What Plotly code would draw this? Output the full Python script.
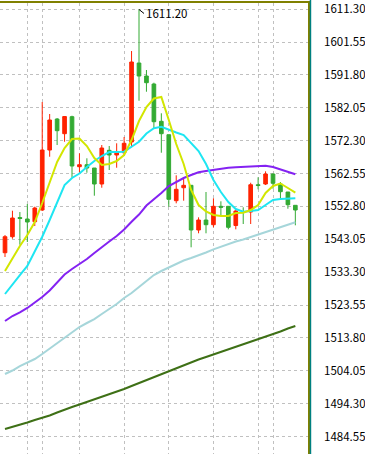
import plotly.graph_objects as go

# ---- data ----
idx = list(range(40))

open_ = [1539.06, 1543.81, 1549.50, 1549.06, 1548.26, 1551.73, 1569.52, 1578.71, 1574.36, 1579.40,
         1564.57, 1565.16, 1564.18, 1559.44, 1569.43, 1568.04, 1568.72, 1571.89, 1595.32, 1591.47,
         1589.09, 1578.03, 1574.06, 1554.49, 1558.34, 1559.05, 1545.80, 1548.76, 1547.37, 1552.83,
         1552.83, 1547.13, 1551.28, 1551.13, 1559.23, 1559.44, 1562.40, 1559.44, 1557.07, 1553.12]
high = [1544.31, 1551.52, 1551.13, 1553.51, 1552.71, 1583.76, 1580.20, 1579.01, 1579.60, 1579.69,
        1568.54, 1567.06, 1564.18, 1571.00, 1570.71, 1571.51, 1573.38, 1598.88, 1611.20, 1593.25,
        1589.48, 1580.41, 1574.06, 1562.02, 1561.01, 1559.05, 1549.56, 1557.07, 1555.20, 1554.31,
        1552.83, 1551.94, 1552.53, 1559.82, 1561.43, 1563.20, 1562.55, 1560.03, 1557.07, 1553.12]
low = [1537.79, 1543.22, 1541.44, 1542.24, 1546.98, 1551.43, 1567.53, 1571.00, 1571.98, 1561.31,
       1562.61, 1562.79, 1555.97, 1558.34, 1563.59, 1564.27, 1567.95, 1570.50, 1584.14, 1586.81,
       1575.96, 1568.72, 1552.71, 1553.71, 1554.49, 1540.67, 1544.82, 1544.82, 1546.60, 1549.95,
       1546.00, 1546.00, 1547.58, 1547.58, 1557.87, 1559.14, 1558.04, 1555.20, 1552.11, 1547.19]
close = [1543.81, 1549.36, 1549.21, 1548.17, 1552.32, 1569.52, 1578.42, 1575.25, 1579.45, 1564.78,
         1565.16, 1564.18, 1559.44, 1570.11, 1568.04, 1568.93, 1571.51, 1595.62, 1591.47, 1589.48,
         1577.91, 1574.36, 1554.90, 1557.87, 1559.05, 1545.80, 1548.76, 1547.37, 1552.83, 1552.53,
         1546.60, 1551.43, 1550.99, 1559.23, 1558.99, 1562.40, 1559.65, 1557.16, 1553.30, 1551.73]

ma_yellow = [1533.64, 1537.49, 1541.05, 1544.31, 1548.17, 1553.80, 1560.03, 1565.96, 1570.11, 1572.78,
             1572.93, 1570.71, 1567.15, 1565.07, 1565.37, 1566.26, 1568.04, 1572.49, 1578.12, 1582.27,
             1584.79, 1585.24, 1578.42, 1571.30, 1565.37, 1557.66, 1553.21, 1551.28, 1550.25, 1549.95,
             1549.95, 1550.84, 1550.93, 1551.73, 1553.21, 1556.77, 1558.85, 1559.59, 1558.25, 1556.86]
ma_cyan = [1526.82, 1529.78, 1532.45, 1535.12, 1539.57, 1543.81, 1548.76, 1553.80, 1559.14, 1561.22,
           1562.55, 1564.48, 1566.26, 1567.74, 1568.93, 1568.93, 1569.02, 1570.50, 1571.98, 1574.41,
           1575.96, 1576.43, 1575.45, 1574.71, 1573.97, 1571.60, 1569.22, 1565.37, 1560.62, 1557.07,
           1554.10, 1552.02, 1551.22, 1551.43, 1551.73, 1553.21, 1554.69, 1554.99, 1555.20, 1555.20]
ma_purple = [1518.81, 1520.29, 1521.39, 1522.67, 1524.30, 1525.93, 1527.85, 1530.08, 1532.60, 1534.23,
             1535.71, 1537.20, 1538.98, 1540.76, 1542.39, 1544.02, 1545.94, 1548.26, 1550.39, 1553.06,
             1554.84, 1556.77, 1558.85, 1560.03, 1561.22, 1562.11, 1562.91, 1563.29, 1563.59, 1564.04,
             1564.24, 1564.39, 1564.54, 1564.78, 1564.87, 1564.87, 1564.48, 1563.74, 1562.85, 1562.32]
ma_lightblue = [1503.09, 1504.13, 1505.46, 1506.50, 1507.54, 1509.02, 1510.65, 1512.14, 1513.77, 1515.55,
                1517.03, 1518.22, 1519.40, 1520.89, 1522.37, 1523.85, 1525.63, 1527.11, 1528.89, 1530.67,
                1532.45, 1533.64, 1534.68, 1535.86, 1536.75, 1537.49, 1538.23, 1539.12, 1540.07, 1540.90,
                1541.64, 1542.39, 1542.98, 1543.72, 1544.61, 1545.35, 1546.09, 1546.83, 1547.49, 1548.08]
ma_darkgreen = [1486.78, 1487.37, 1488.12, 1488.71, 1489.45, 1490.04, 1490.78, 1491.67, 1492.56, 1493.31,
                1494.05, 1494.79, 1495.53, 1496.27, 1497.01, 1497.75, 1498.64, 1499.53, 1500.42, 1501.16,
                1502.05, 1503.09, 1503.98, 1504.87, 1505.76, 1506.65, 1507.39, 1508.13, 1508.88, 1509.62,
                1510.36, 1511.10, 1511.84, 1512.58, 1513.32, 1514.21, 1514.95, 1515.70, 1516.59, 1517.33]

tick_vals = [1484.55, 1494.30, 1504.05, 1513.80, 1523.55, 1533.30, 1543.05,
             1552.80, 1562.55, 1572.30, 1582.05, 1591.80, 1601.55, 1611.30]
tick_labels = ["1484.55", "1494.30", "1504.05", "1513.80", "1523.55", "1533.30", "1543.05",
               "1552.80", "1562.55", "1572.30", "1582.05", "1591.80", "1601.55", "1611.30"]
vgrid_idx = [3, 5, 10, 16, 22, 28, 34, 36]
peak_idx = 18
peak_label = "1611.20"

RED = "#FF2200"
GREEN = "#33AA33"
FONT = "Noto Sans CJK SC"

fig = go.Figure()

lines = [
    (ma_darkgreen, "#3E7016"),
    (ma_lightblue, "#A6D6DA"),
    (ma_purple, "#8422F2"),
    (ma_cyan, "#1EE6F2"),
    (ma_yellow, "#D2E600"),
]
for vals, col in lines:
    fig.add_trace(go.Scatter(x=idx, y=vals, mode="lines",
                             line=dict(color=col, width=2), hoverinfo="skip"))

fig.add_trace(go.Candlestick(
    x=idx, open=open_, high=high, low=low, close=close,
    increasing=dict(line=dict(color=RED, width=1), fillcolor=RED),
    decreasing=dict(line=dict(color=GREEN, width=1), fillcolor=GREEN),
    whiskerwidth=0, hoverinfo="skip"))

fig.add_annotation(x=peak_idx, y=high[peak_idx], text=peak_label,
                   showarrow=True, arrowhead=0, arrowwidth=1, arrowcolor="#000000",
                   ax=5, ay=4, xanchor="left", yanchor="middle",
                   font=dict(family=FONT, size=11.5, color="#000000"))

# teal separator line between plot and price scale
fig.add_shape(type="line", xref="paper", yref="paper",
              x0=1.008, x1=1.008, y0=-0.01, y1=1.01,
              line=dict(color="#008080", width=1.5))

fig.update_layout(
    width=365, height=454,
    margin=dict(l=0, r=57, t=3, b=0, autoexpand=False),
    paper_bgcolor="white", plot_bgcolor="white",
    showlegend=False,
    xaxis=dict(range=[-0.672, 40.70], rangeslider=dict(visible=False),
               tickvals=vgrid_idx, showticklabels=False, ticks="",
               showgrid=True, gridcolor="#C0C0C0", griddash="3px,3px", gridwidth=1,
               showline=True, linecolor="#808000", linewidth=1.5, side="top",
               zeroline=False, fixedrange=True, automargin=False),
    yaxis=dict(range=[1479.37, 1613.12], side="right",
               tickvals=tick_vals, ticktext=tick_labels, ticks="",
               ticklabelstandoff=12, ticklabeloverflow="allow",
               tickfont=dict(family=FONT, size=11.5, color="#000000"),
               showgrid=True, gridcolor="#C0C0C0", griddash="3px,3px", gridwidth=1,
               showline=True, linecolor="#808000", linewidth=1.5,
               zeroline=False, fixedrange=True, automargin=False),
)

fig.write_html("out.html", config={"displayModeBar": False},
               post_script="document.body.style.margin='0px';document.body.style.overflow='hidden';")
